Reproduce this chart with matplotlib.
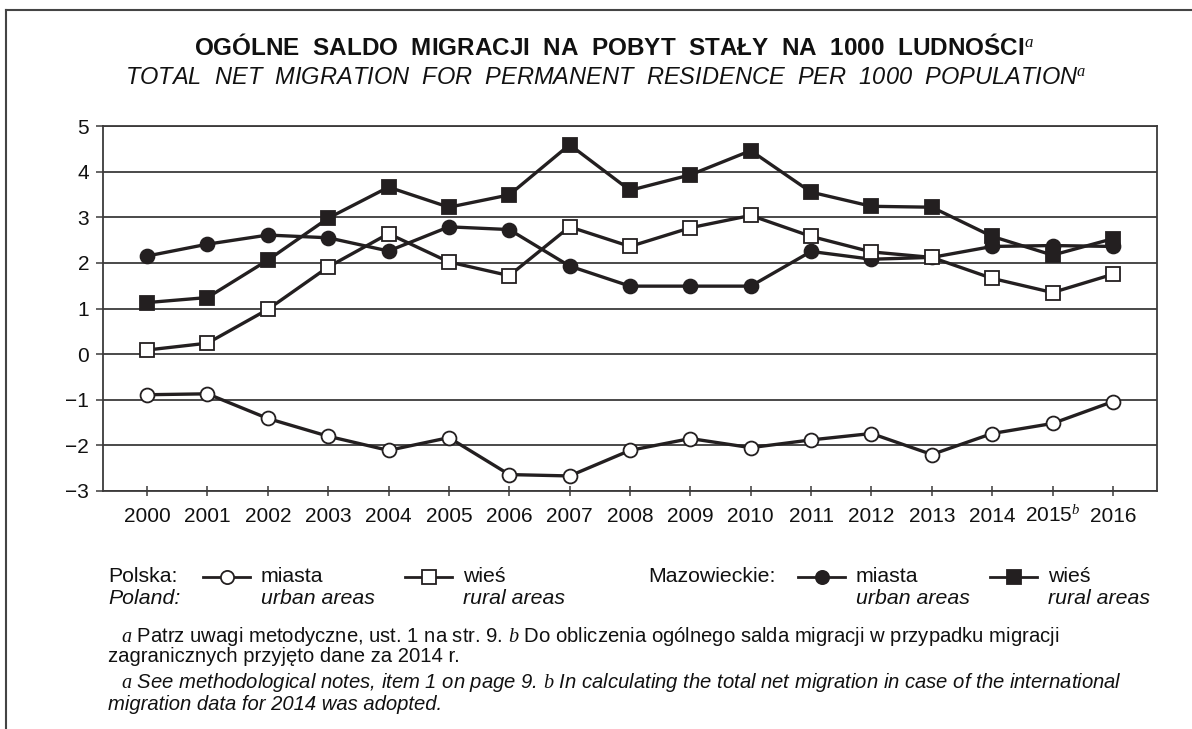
import matplotlib
matplotlib.use("Agg")
import matplotlib.pyplot as plt
from matplotlib.lines import Line2D
import numpy as np

plt.rcParams['font.family'] = ['Liberation Sans', 'DejaVu Sans']
plt.rcParams['mathtext.fontset'] = 'custom'
plt.rcParams['mathtext.it'] = 'Liberation Serif:italic'
plt.rcParams['mathtext.rm'] = 'Liberation Serif'

years = ['2000', '2001', '2002', '2003', '2004', '2005', '2006', '2007', '2008',
         '2009', '2010', '2011', '2012', '2013', '2014', '2015$^{b}$', '2016']

# Polska
pl_miasta = [-0.89, -0.87, -1.41, -1.80, -2.11, -1.83, -2.64, -2.67, -2.11,
             -1.85, -2.05, -1.88, -1.74, -2.20, -1.74, -1.52, -1.04]
pl_wies = [0.09, 0.24, 0.98, 1.91, 2.64, 2.02, 1.72, 2.79, 2.36,
           2.77, 3.04, 2.58, 2.24, 2.12, 1.66, 1.35, 1.75]

# Mazowieckie
maz_miasta = [2.15, 2.41, 2.61, 2.55, 2.26, 2.79, 2.73, 1.93, 1.49,
              1.49, 1.49, 2.25, 2.08, 2.12, 2.36, 2.38, 2.36]
maz_wies = [1.13, 1.24, 2.06, 2.98, 3.66, 3.22, 3.49, 4.59, 3.59,
            3.93, 4.46, 3.55, 3.24, 3.22, 2.58, 2.17, 2.53]

ink = '#231f20'
grid_c = '#3c3a3a'
txt = '#111111'

fig = plt.figure(figsize=(11.92, 7.29), dpi=100)
ax = fig.add_axes([103 / 1192, 1 - 491 / 729, (1157 - 103) / 1192, (491 - 126) / 729])

x = np.arange(len(years))
style = dict(color=ink, lw=2.4, markersize=10, markeredgewidth=1.3, markeredgecolor=ink)
ax.plot(x, maz_wies, marker='s', markerfacecolor=ink, zorder=3, **style)
ax.plot(x, maz_miasta, marker='o', markerfacecolor=ink, zorder=4, **style)
ax.plot(x, pl_wies, marker='s', markerfacecolor='white', zorder=5, **style)
ax.plot(x, pl_miasta, marker='o', markerfacecolor='white', zorder=6, **style)

ax.set_xlim(-0.73, 16.73)
ax.set_ylim(-3, 5)
ax.set_yticks(range(-3, 6))
ax.set_xticks(x)
ax.set_xticklabels(years)
ax.yaxis.grid(True, color=grid_c, lw=1.3)
ax.set_axisbelow(True)
for s in ax.spines.values():
    s.set_color(grid_c)
    s.set_linewidth(1.3)
ax.tick_params(axis='x', direction='inout', length=7, width=1.1, color=grid_c,
               labelsize=15, pad=19, labelcolor=txt)
ax.tick_params(axis='y', direction='out', length=5, width=1.1, color=grid_c,
               labelsize=15, pad=5, labelcolor=txt)
for lab in ax.get_xticklabels():
    lab.set_verticalalignment('baseline')

# titles
fig.text(614 / 1192, 1 - 47 / 729,
         'OGÓLNE  SALDO  MIGRACJI  NA  POBYT  STAŁY  NA  1000  LUDNOŚCI$^{a}$',
         ha='center', va='center', fontsize=17.5, fontweight='bold', color=txt)
fig.text(606 / 1192, 1 - 77 / 729,
         'TOTAL  NET  MIGRATION  FOR  PERMANENT  RESIDENCE  PER  1000  POPULATION$^{a}$',
         ha='center', va='center', fontsize=17, style='italic', color=txt)

# legend
def px(xp, yp):
    return xp / 1192, 1 - yp / 729

row1, row2 = 577, 599
fs = 15.3
fig.text(*px(108, row1), 'Polska:', ha='left', va='center', fontsize=fs, color=txt)
fig.text(*px(108, row2), 'Poland:', ha='left', va='center', fontsize=fs, style='italic',
         color=txt)
fig.text(*px(648, row1), 'Mazowieckie:', ha='left', va='center', fontsize=fs, color=txt)

entries = [
    (203, 'o', 'white', 'miasta', 'urban areas'),
    (405, 's', 'white', 'wieś', 'rural areas'),
    (798, 'o', ink, 'miasta', 'urban areas'),
    (990, 's', ink, 'wieś', 'rural areas'),
]
for x0, mk, fc, lab_pl, lab_en in entries:
    fig.add_artist(Line2D([x0 / 1192, (x0 + 47) / 1192], [1 - row1 / 729] * 2,
                          color=ink, lw=2.0, transform=fig.transFigure))
    fig.add_artist(Line2D([(x0 + 23.5) / 1192], [1 - row1 / 729], marker=mk,
                          markersize=9.5, markerfacecolor=fc, markeredgecolor=ink,
                          markeredgewidth=1.3, transform=fig.transFigure))
    fig.text(*px(x0 + 58, row1), lab_pl, ha='left', va='center', fontsize=fs, color=txt)
    fig.text(*px(x0 + 58, row2), lab_en, ha='left', va='center', fontsize=fs,
             style='italic', color=txt)

# footnotes
ffs = 14.6
fig.text(*px(121, 636), '$a$ Patrz uwagi metodyczne, ust. 1 na str. 9. $b$ Do obliczenia '
         'ogólnego salda migracji w przypadku migracji', ha='left', va='center',
         fontsize=ffs, color=txt)
fig.text(*px(108, 656), 'zagranicznych przyjęto dane za 2014 r.', ha='left', va='center',
         fontsize=ffs, color=txt)
fig.text(*px(121, 683), '$a$ See methodological notes, item 1 on page 9. $b$ In calculating '
         'the total net migration in case of the international', ha='left', va='center',
         fontsize=ffs, style='italic', color=txt)
fig.text(*px(108, 704), 'migration data for 2014 was adopted.', ha='left', va='center',
         fontsize=ffs, style='italic', color=txt)

# page frame
fig.add_artist(Line2D([6 / 1192, 1], [1 - 10 / 729] * 2, color='#444444', lw=1.5,
                      transform=fig.transFigure))
fig.add_artist(Line2D([6 / 1192] * 2, [0, 1 - 10 / 729], color='#444444', lw=1.5,
                      transform=fig.transFigure))

fig.savefig('out.png', dpi=100)
